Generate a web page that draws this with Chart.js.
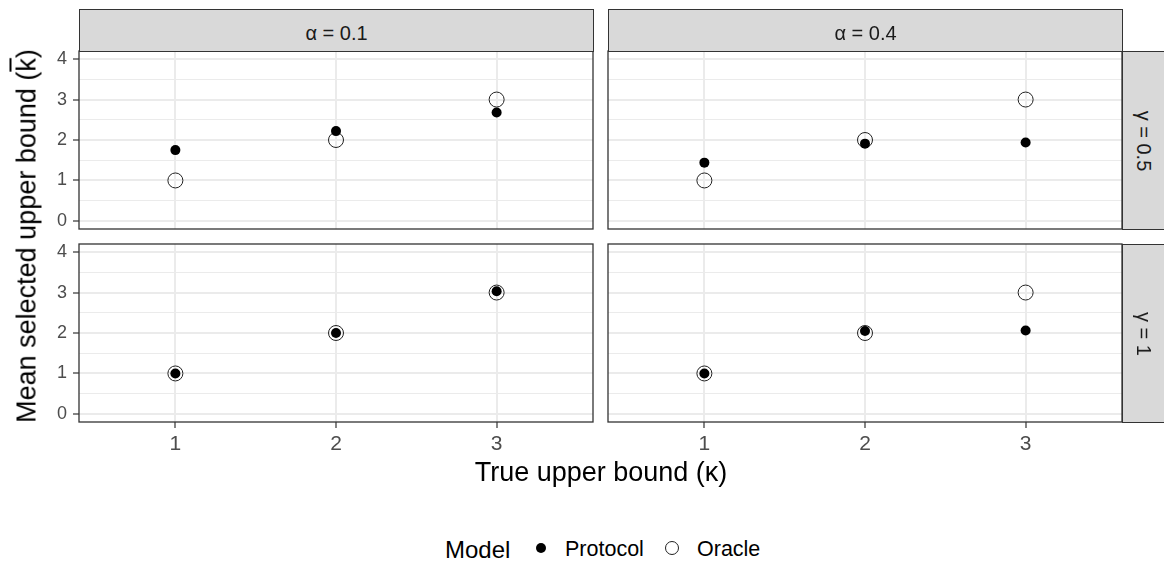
<!DOCTYPE html>
<html>
<head>
<meta charset="utf-8">
<script src="https://cdn.jsdelivr.net/npm/chart.js@4/dist/chart.umd.min.js"></script>
<style>
  html, body { margin: 0; padding: 0; }
  body { width: 1164px; height: 561px; position: relative; overflow: hidden; background: #fff;
         font-family: "Liberation Sans", Arial, Helvetica, sans-serif; }
  canvas { position: absolute; }
  .strip { position: absolute; background: #D9D9D9; border: 1px solid #333; box-sizing: border-box;
           color: #1A1A1A; font-size: 20px; }
  .strip span { position: absolute; left: 50%; top: 50%; white-space: nowrap; line-height: 1; }
  .txt { position: absolute; white-space: nowrap; line-height: 1; color: #000; }
  .key { position: absolute; border-radius: 50%; box-sizing: border-box; }
</style>
</head>
<body>
<div id="root"></div>
<script>
// ---------- data ----------
const kappa = [1, 2, 3];
const yTickValues = [0, 0.5, 1, 1.5, 2, 2.5, 3, 3.5, 4];
const alphaLabels = ['α = 0.1', 'α = 0.4'];
const gammaLabels = ['γ = 0.5', 'γ = 1'];
const protocolA01G05 = [1.75, 2.22, 2.68];
const protocolA04G05 = [1.44, 1.91, 1.94];
const protocolA01G1  = [1.00, 2.00, 3.03];
const protocolA04G1  = [1.00, 2.05, 2.06];
const oracleA01G05 = [1, 2, 3];
const oracleA04G05 = [1, 2, 3];
const oracleA01G1  = [1, 2, 3];
const oracleA04G1  = [1, 2, 3];
const seriesNames = ['Protocol', 'Oracle'];
const legendTitle = 'Model';
const xTitle = 'True upper bound (κ)';

// ---------- layout ----------
const FONT = "'Liberation Sans', Arial, Helvetica, sans-serif";
Chart.defaults.font.family = FONT;
const colLeft = [79, 608], panelW = 514;
const rowTop = [51, 244], panelH = 178;
const PAD = 4, Y_W = 50, X_H = 45;

const root = document.getElementById('root');

const borderPlugin = {
  id: 'panelBorder',
  afterDraw(chart) {
    const { ctx, chartArea: a } = chart;
    ctx.save();
    ctx.strokeStyle = '#333333';
    ctx.lineWidth = 1.3;
    ctx.strokeRect(a.left, a.top, a.right - a.left, a.bottom - a.top);
    ctx.restore();
  }
};

function zeroPad(s) { s.paddingLeft = 0; s.paddingRight = 0; s.paddingTop = 0; s.paddingBottom = 0; }

function makePanel(col, row, protocol, oracle) {
  const showY = col === 0, showX = row === 1;
  const yW = showY ? Y_W : 0, xH = showX ? X_H : 0;
  const left = colLeft[col] - yW - PAD, top = rowTop[row] - PAD;
  const w = panelW + yW + 2 * PAD, h = panelH + xH + 2 * PAD;
  const cv = document.createElement('canvas');
  cv.width = w; cv.height = h;
  cv.style.left = left + 'px'; cv.style.top = top + 'px';
  cv.style.width = w + 'px'; cv.style.height = h + 'px';
  root.appendChild(cv);
  new Chart(cv, {
    type: 'scatter',
    data: {
      datasets: [
        { label: seriesNames[0], data: kappa.map((k, i) => ({ x: k, y: protocol[i] })),
          pointRadius: 5, pointHoverRadius: 5, pointBackgroundColor: '#000', pointBorderColor: '#000', pointBorderWidth: 0 },
        { label: seriesNames[1], data: kappa.map((k, i) => ({ x: k, y: oracle[i] })),
          pointRadius: 7.5, pointHoverRadius: 7.5, pointBackgroundColor: 'rgba(0,0,0,0)', pointBorderColor: '#222', pointBorderWidth: 1 }
      ]
    },
    options: {
      responsive: false, animation: false, devicePixelRatio: 1,
      layout: { padding: PAD, autoPadding: false },
      events: [],
      plugins: { legend: { display: false }, tooltip: { enabled: false } },
      scales: {
        x: {
          type: 'linear', min: 0.4, max: 3.6,
          afterBuildTicks: s => { s.ticks = kappa.map(v => ({ value: v })); },
          afterFit: s => { s.height = xH; zeroPad(s); },
          grid: { color: '#EBEBEB', lineWidth: 2, drawTicks: showX, tickLength: 6, tickColor: '#333', tickWidth: 1.2 },
          border: { display: false },
          ticks: { display: showX, autoSkip: false, maxRotation: 0, padding: 4,
                   font: { size: 21, family: FONT }, color: '#4D4D4D', callback: v => String(v) }
        },
        y: {
          type: 'linear', min: -0.2, max: 4.2,
          afterBuildTicks: s => { s.ticks = yTickValues.map(v => ({ value: v })); },
          afterFit: s => { s.width = yW; zeroPad(s); },
          grid: { color: '#EBEBEB',
                  lineWidth: c => Number.isInteger(c.tick.value) ? 2 : 1,
                  drawTicks: showY, tickLength: 6, tickWidth: 1.2,
                  tickColor: c => Number.isInteger(c.tick.value) ? '#333' : 'rgba(0,0,0,0)' },
          border: { display: false },
          ticks: { display: showY, autoSkip: false, padding: 6,
                   font: { size: 18, family: FONT }, color: '#4D4D4D',
                   callback: v => Number.isInteger(v) ? String(v) : '' }
        }
      }
    },
    plugins: [borderPlugin]
  });
}

makePanel(0, 0, protocolA01G05, oracleA01G05);
makePanel(1, 0, protocolA04G05, oracleA04G05);
makePanel(0, 1, protocolA01G1, oracleA01G1);
makePanel(1, 1, protocolA04G1, oracleA04G1);

// strips
function addDiv(cls, css, html) {
  const d = document.createElement('div');
  d.className = cls; Object.assign(d.style, css); d.innerHTML = html || '';
  root.appendChild(d); return d;
}
alphaLabels.forEach((lab, i) => {
  addDiv('strip', { left: colLeft[i] + 'px', top: '9px', width: (panelW + 1) + 'px', height: (rowTop[0] - 9 + 1) + 'px' },
    '<span style="transform:translate(-50%,-42%)">' + lab + '</span>');
});
gammaLabels.forEach((lab, i) => {
  addDiv('strip', { left: (colLeft[1] + panelW) + 'px', top: rowTop[i] + 'px', width: '50px', height: (panelH + 1) + 'px' },
    '<span style="left:21px;transform:translate(-50%,-50%) rotate(90deg)">' + lab + '</span>');
});

// axis titles
addDiv('txt', { left: '601px', top: '472px', fontSize: '27px', transform: 'translate(-50%,-50%)' }, xTitle);
addDiv('txt', { left: '27px', top: '236px', fontSize: '27px', transform: 'translate(-50%,-50%) rotate(-90deg)' },
  'Mean selected upper bound (<span style="text-decoration:overline">k</span>)');

// legend
addDiv('txt', { left: '445px', top: '538px', fontSize: '24px' }, legendTitle);
addDiv('key', { left: '536px', top: '543px', width: '10px', height: '10px', background: '#000' });
addDiv('txt', { left: '565px', top: '539px', fontSize: '21.5px' }, seriesNames[0]);
addDiv('key', { left: '665px', top: '541px', width: '14px', height: '14px', border: '1px solid #222' });
addDiv('txt', { left: '697px', top: '539px', fontSize: '21.5px' }, seriesNames[1]);
</script>
</body>
</html>
